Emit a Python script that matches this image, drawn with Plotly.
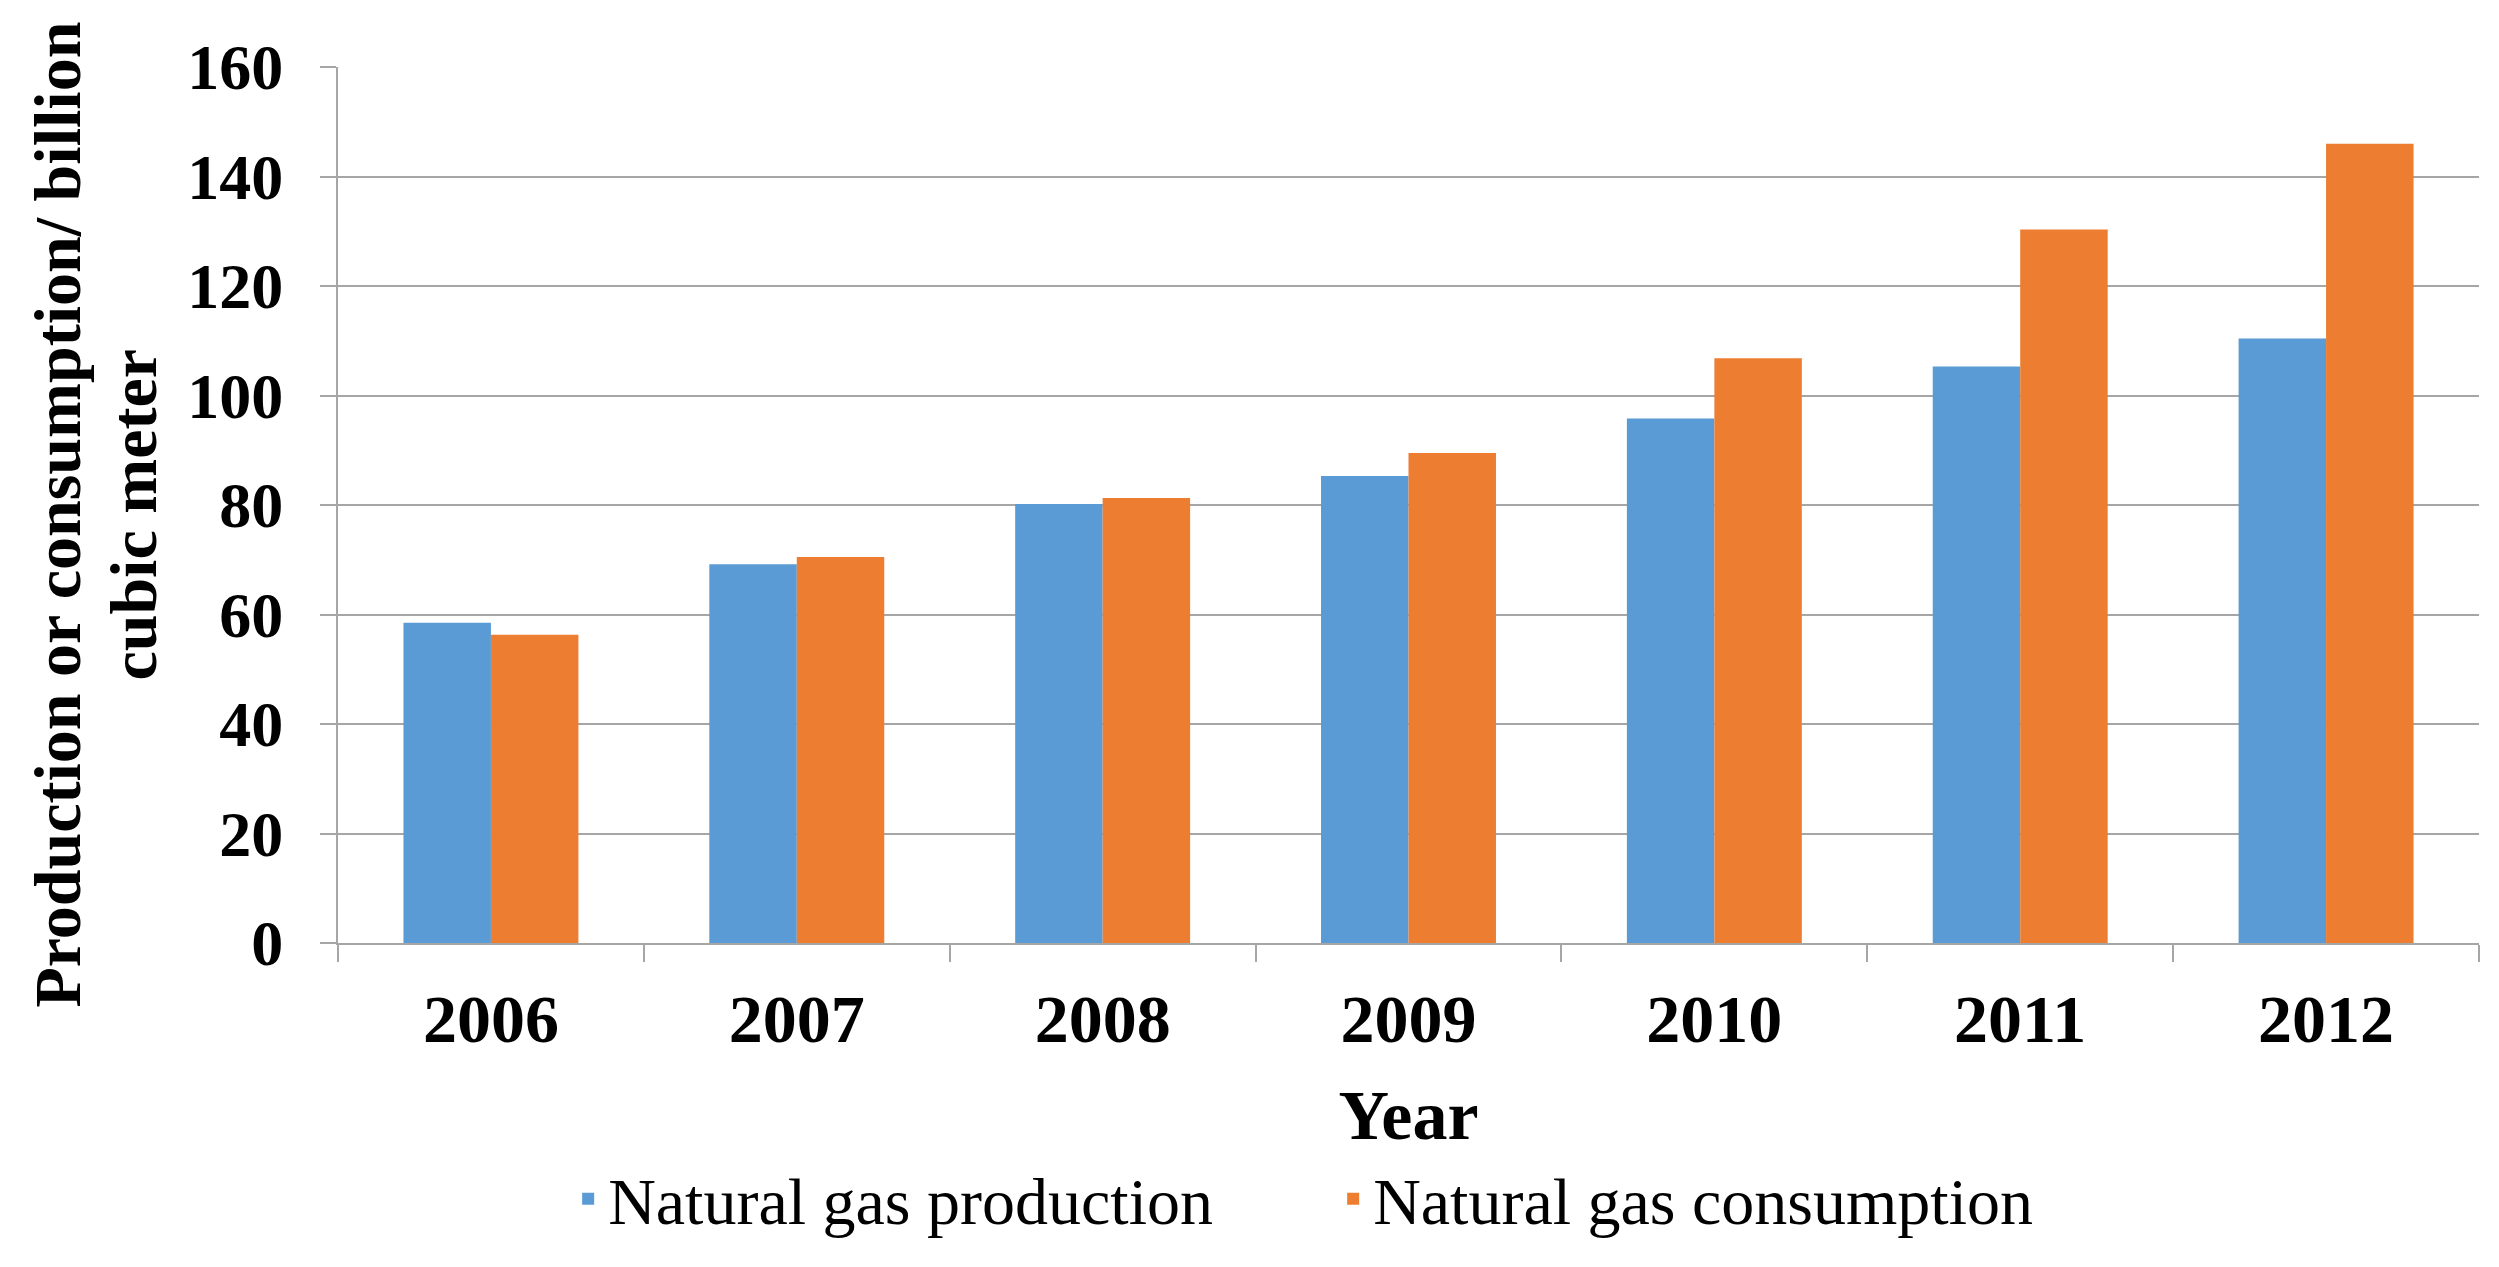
import plotly.graph_objects as go

years = ["2006", "2007", "2008", "2009", "2010", "2011", "2012"]
production = [58.5, 69.2, 80.2, 85.3, 95.8, 105.3, 110.4]
consumption = [56.3, 70.5, 81.3, 89.5, 106.8, 130.3, 146.0]
y_ticks = [0, 20, 40, 60, 80, 100, 120, 140, 160]

BLUE = "#5B9BD5"
ORANGE = "#ED7D31"
GRID = "#A6A6A6"
SERIF = "Liberation Serif, Times New Roman, serif"

fig = go.Figure()
fig.add_trace(go.Bar(x=years, y=production, name="Natural gas production",
                     marker=dict(color=BLUE, line=dict(width=0))))
fig.add_trace(go.Bar(x=years, y=consumption, name="Natural gas consumption",
                     marker=dict(color=ORANGE, line=dict(width=0))))

# page body adds 8px, so the figure is 8px smaller than the window
fig.update_layout(
    width=2491, height=1259,
    margin=dict(l=330, r=20, t=59, b=323.5, autoexpand=False),
    paper_bgcolor="white", plot_bgcolor="white",
    barmode="group", bargap=0.428, bargroupgap=0,
    font=dict(family=SERIF, color="black"),
    legend=dict(orientation="h", x=0.1075, xanchor="left", y=-0.292, yanchor="middle",
                entrywidth=720, font=dict(family=SERIF, size=66), traceorder="normal"),
)

fig.update_xaxes(
    type="category", showgrid=False,
    showline=True, linecolor=GRID, linewidth=2,
    ticks="outside", tickson="boundaries", ticklen=17, tickcolor=GRID, tickwidth=2,
    tickfont=dict(family=SERIF, size=68, color="black", weight="bold"),
    ticklabelstandoff=15,
    title=dict(text="<b>Year</b>", font=dict(family=SERIF, size=70), standoff=34),
)

fig.update_yaxes(
    range=[0, 160], tickvals=y_ticks,
    showgrid=True, gridcolor=GRID, gridwidth=2,
    showline=True, linecolor=GRID, linewidth=2,
    ticks="outside", ticklen=16, tickcolor=GRID, tickwidth=2,
    tickfont=dict(family=SERIF, size=64, color="black", weight="bold"),
    ticklabelstandoff=24, zeroline=False,
)

# y-axis title, two lines set close together
for txt, xpos in [("Production or consumption/ billion", -0.1308), ("cubic meter", -0.0953)]:
    fig.add_annotation(
        text=f"<b>{txt}</b>",
        xref="paper", yref="paper", x=xpos, y=0.489,
        xanchor="center", yanchor="middle", textangle=-90, showarrow=False,
        font=dict(family=SERIF, size=66, color="black"),
    )

fig.write_html("out.html")
